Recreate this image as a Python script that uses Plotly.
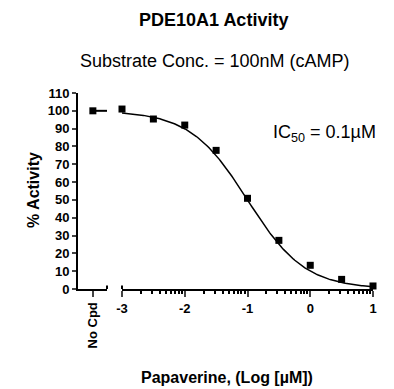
import numpy as np
import plotly.graph_objects as go

# ---- data ----
log_conc = [-3, -2.5, -2, -1.5, -1, -0.5, 0, 0.5, 1]
activity = [101, 95.4, 92, 77.8, 50.9, 27.3, 13.3, 5.4, 1.7]
nocpd_label = ["No Cpd"]
nocpd_value = [100]
# fitted 4-parameter logistic (GraphPad fit) parameters
fit_top, fit_bottom, fit_logic50, fit_hill = 100.0, 0.0, -1.0, 0.95
y_ticks = list(range(0, 111, 10))
x_ticks = [-3, -2, -1, 0, 1]
x_ticklabels = ["-3", "-2", "-1", "0", "1"]

xf = np.linspace(-3, 1, 200)
yf = fit_bottom + (fit_top - fit_bottom) / (1 + 10 ** ((xf - fit_logic50) * fit_hill))

minor_vals = [d + np.log10(k) for d in range(-3, 1) for k in range(2, 10)]

FONT = "Liberation Sans, Arial, sans-serif"
L, R, T, B = 78, 21, 93, 100
W, H = 394, 389
pw = W - L - R

fig = go.Figure()
# No Cpd point and short line
fig.add_trace(go.Scatter(x=[0, 0.95], y=[nocpd_value[0]] * 2, mode="lines",
                         line=dict(color="black", width=2), xaxis="x", yaxis="y",
                         cliponaxis=False, showlegend=False))
fig.add_trace(go.Scatter(x=[0], y=nocpd_value, mode="markers",
                         marker=dict(symbol="square", size=7, color="black"),
                         xaxis="x", yaxis="y", cliponaxis=False, showlegend=False))
# fit curve
fig.add_trace(go.Scatter(x=xf, y=yf, mode="lines", line=dict(color="black", width=1.5),
                         xaxis="x2", yaxis="y", cliponaxis=False, showlegend=False))
fig.add_trace(go.Scatter(x=log_conc, y=activity, mode="markers",
                         marker=dict(symbol="square", size=7, color="black"),
                         xaxis="x2", yaxis="y", cliponaxis=False, showlegend=False))

d1 = (107 - L) / pw
d2 = (122 - L) / pw
fig.update_layout(
    width=W, height=H, margin=dict(l=L, r=R, t=T, b=B),
    paper_bgcolor="white", plot_bgcolor="white",
    font=dict(family=FONT, color="black"),
    xaxis=dict(domain=[0, d1], range=[-1, 0.95], tickvals=[0], ticktext=nocpd_label,
               tickangle=-90, showline=True, linewidth=2, linecolor="black",
               ticks="outside", ticklen=6, tickwidth=2, showgrid=False, zeroline=False,
               tickfont=dict(size=13, family=FONT, weight="bold"), anchor="y"),
    xaxis2=dict(domain=[d2, 1], range=[-3, 1], tickvals=x_ticks, ticktext=x_ticklabels,
                showline=True, linewidth=2, linecolor="black",
                ticks="outside", ticklen=6, tickwidth=2, showgrid=False, zeroline=False,
                tickfont=dict(size=13, family=FONT, weight="bold"), anchor="y",
                minor=dict(tickvals=minor_vals, ticks="outside", ticklen=3, tickwidth=1.5,
                           tickcolor="black", showgrid=False)),
    yaxis=dict(range=[0, 110], tickvals=y_ticks, showline=True, linewidth=2,
               linecolor="black", ticks="outside", ticklen=4, tickwidth=2,
               showgrid=False, zeroline=False, anchor="x",
               tickfont=dict(size=13, family=FONT, weight="bold")),
    shapes=[
        dict(type="line", xref="x domain", yref="y", x0=1, x1=1, y0=-2, y1=2,
             line=dict(color="black", width=2)),
        dict(type="line", xref="x2 domain", yref="y", x0=0, x1=0, y0=-2, y1=2,
             line=dict(color="black", width=2)),
    ],
    annotations=[
        dict(text="<b>PDE10A1 Activity</b>", xref="paper", yref="paper",
             x=(213.5 - L) / pw, y=(289 - 20) / 196, xanchor="center", yanchor="middle",
             showarrow=False, font=dict(size=18, family=FONT)),
        dict(text="Substrate Conc. = 100nM (cAMP)", xref="paper", yref="paper",
             x=(214.5 - L) / pw, y=(289 - 61) / 196, xanchor="center", yanchor="middle",
             showarrow=False, font=dict(size=18, family=FONT)),
        dict(text="<b>Papaverine, (Log [µM])</b>", xref="paper", yref="paper",
             x=(227 - L) / pw, y=(289 - 377) / 196, xanchor="center", yanchor="middle",
             showarrow=False, font=dict(size=16, family=FONT)),
        dict(text="<b>% Activity</b>", xref="paper", yref="paper", textangle=-90,
             x=(33 - L) / pw, y=(289 - 190) / 196, xanchor="center", yanchor="middle",
             showarrow=False, font=dict(size=16, family=FONT)),
        dict(text="IC<sub>50</sub> = 0.1µM", xref="paper", yref="paper",
             x=(324 - L) / pw, y=(289 - 133) / 196, xanchor="center", yanchor="middle",
             showarrow=False, font=dict(size=18, family=FONT)),
    ],
)

fig.write_html("out.html", config={"displayModeBar": False},
               post_script="document.body.style.margin='0px';"
               "document.body.style.overflow='hidden';")
